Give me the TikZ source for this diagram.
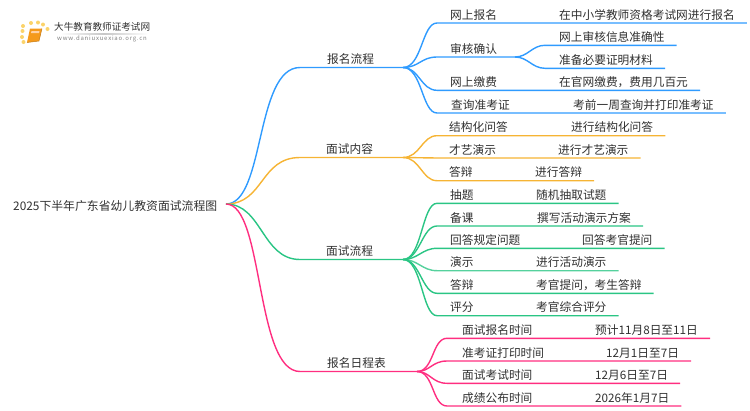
\documentclass[tikz,border=0pt]{standalone}
\usepackage{fontspec}
\setmainfont{Noto Sans CJK SC}
\definecolor{txtgray}{HTML}{303030}
\definecolor{linkblue}{HTML}{2F9BFF}
\definecolor{linkorange}{HTML}{F6B434}
\definecolor{linkgreen}{HTML}{2AC584}
\definecolor{linkpink}{HTML}{FF2E80}
\definecolor{logoorange}{HTML}{F59A1C}
\definecolor{logodot}{HTML}{FBD36A}
\tikzset{
	item/.style={anchor=south west,inner sep=0pt,text depth=3.6pt,text height=9pt,font=\fontsize{11.7}{12}\selectfont,text=txtgray},
	bluelink/.style={draw=linkblue,line width=1.4pt},
	orangelink/.style={draw=linkorange,line width=1.4pt},
	greenlink/.style={draw=linkgreen,line width=1.4pt},
	pinklink/.style={draw=linkpink,line width=1.4pt}
}
\begin{document}
\begin{tikzpicture}[x=1pt,y=-1pt]
	\useasboundingbox (0,0) rectangle (750,410);
	% logo
	\foreach \dx/\dy in {23/26,31/23,38/22.5,43/24.5,47.5/29,22.5/31,22/37,23.5/42}
		\fill[logodot] (\dx,\dy) circle (2);
	\fill[logoorange] (30,28.5) -- (42,28.5) -- (39,41) -- (27,42.5) -- cycle;
	\fill[orange!35!white] (31.5,31) -- (39.5,31) -- (39,33) -- (31,33) -- cycle;
	\draw[logoorange!80!black,line width=.5pt] (27,42.5) -- (39,41) -- (42,28.5);
	\node[anchor=west,inner sep=0pt,font=\fontsize{9.6}{10}\selectfont,text=txtgray] (logotitle) at (54,27) {大牛教育教师证考试网};
	\node[anchor=west,inner sep=0pt,font=\fontsize{6}{7}\selectfont,text=gray] (logourl) at (57,39) {\addfontfeature{LetterSpace=13}www.daniuxuexiao.org.cn};
	\fill[left color=white,right color=white,middle color=black!22] (60,33) rectangle (148,34);
	% root
	\node[anchor=base west,inner sep=0pt,font=\fontsize{11.85}{12}\selectfont,text=txtgray] (root) at (13,210) {2025下半年广东省幼儿教资面试流程图};
	\coordinate (rootout) at (226,204);
	% branches
	\coordinate (bluehub) at (403,67.5);
	\coordinate (orangehub) at (403,157.5);
	\coordinate (greenhub) at (403,259.5);
	\coordinate (pinkhub) at (417,371.5);
	\node[item] (bmlc) at (327,67.5) {报名流程};
	\node[item] (msnr) at (326,157.5) {面试内容};
	\node[item] (mslc) at (326,259.5) {面试流程};
	\node[item] (rcb) at (327,371.5) {报名日程表};
	\draw[bluelink] (rootout) .. controls +(39,0) and +(-45,0) .. ([xshift=-27pt]bmlc.south west) -- (bluehub);
	\draw[orangelink] (rootout) .. controls +(38,0) and +(-40,0) .. ([xshift=-26pt]msnr.south west) -- (orangehub);
	\draw[greenlink] (rootout) .. controls +(36,0) and +(-38,0) .. ([xshift=-26pt]mslc.south west) -- (greenhub);
	\draw[pinklink] (rootout) .. controls +(38,0) and +(-45,0) .. ([xshift=-27pt]rcb.south west) -- (pinkhub);
	% blue leaves
	\node[item] (wsbm) at (450,23) {网上报名};
	\node[item] (wsbmd) at (559,23) {在中小学教师资格考试网进行报名};
	\node[item] (shqr) at (450,57) {审核确认};
	\coordinate (shhub) at (515,57);
	\node[item] (shxx) at (559,45.3) {网上审核信息准确性};
	\node[item] (shcl) at (559,68.3) {准备必要证明材料};
	\node[item] (wsjf) at (450,90.3) {网上缴费};
	\node[item] (wsjfd) at (559,90.3) {在官网缴费，费用几百元};
	\node[item] (cxzk) at (451,113) {查询准考证};
	\node[item] (cxzkd) at (573,113) {考前一周查询并打印准考证};
	\draw[bluelink] (bluehub) .. controls +(19,0) and +(-15,0) .. ([xshift=-13pt]wsbm.south west) -- ([xshift=12pt]wsbmd.south east);
	\draw[bluelink] (bluehub) .. controls +(16,0) and +(-16,0) .. ([xshift=-13pt]shqr.south west) -- (shhub);
	\draw[bluelink] (shhub) .. controls +(13,0) and +(-13,0) .. ([xshift=-14pt]shxx.south west) -- ([xshift=12pt]shxx.south east);
	\draw[bluelink] (shhub) .. controls +(13,0) and +(-13,0) .. ([xshift=-14pt]shcl.south west) -- ([xshift=12pt]shcl.south east);
	\draw[bluelink] (bluehub) .. controls +(16,0) and +(-16,0) .. ([xshift=-13pt]wsjf.south west) -- ([xshift=12pt]wsjfd.south east);
	\draw[bluelink] (bluehub) .. controls +(19,0) and +(-15,0) .. ([xshift=-14pt]cxzk.south west) -- ([xshift=12pt]cxzkd.south east);
	% orange leaves
	\node[item] (jgh) at (449,135.7) {结构化问答};
	\node[item] (jghd) at (571,135.7) {进行结构化问答};
	\node[item] (cyys) at (449,158) {才艺演示};
	\node[item] (cyysd) at (558,158) {进行才艺演示};
	\node[item] (db) at (449,180.7) {答辩};
	\node[item] (dbd) at (535,180.7) {进行答辩};
	\draw[orangelink] (orangehub) .. controls +(17,0) and +(-15,0) .. ([xshift=-12pt]jgh.south west) -- ([xshift=12pt]jghd.south east);
	\draw[orangelink] (orangehub) -- ([xshift=-12pt]cyys.south west) -- ([xshift=12pt]cyysd.south east);
	\draw[orangelink] (orangehub) .. controls +(17,0) and +(-15,0) .. ([xshift=-12pt]db.south west) -- ([xshift=12pt]dbd.south east);
	% green leaves
	\node[item] (ct) at (450,203.3) {抽题};
	\node[item] (ctd) at (536,203.3) {随机抽取试题};
	\node[item] (bk) at (450,226) {备课};
	\node[item] (bkd) at (537,226) {撰写活动演示方案};
	\node[item] (hd) at (450,248.3) {回答规定问题};
	\node[item] (hdd) at (582,248.3) {回答考官提问};
	\node[item] (ys) at (450,270.7) {演示};
	\node[item] (ysd) at (536,270.7) {进行活动演示};
	\node[item] (gdb) at (450,293.3) {答辩};
	\node[item] (gdbd) at (536,293.3) {考官提问，考生答辩};
	\node[item] (pf) at (450,315.7) {评分};
	\node[item] (pfd) at (536,315.7) {考官综合评分};
	\draw[greenlink] (greenhub) .. controls +(19,0) and +(-15,0) .. ([xshift=-13pt]ct.south west) -- ([xshift=12pt]ctd.south east);
	\draw[greenlink] (greenhub) .. controls +(17,0) and +(-15,0) .. ([xshift=-13pt]bk.south west) -- ([xshift=12pt]bkd.south east);
	\draw[greenlink] (greenhub) .. controls +(15,0) and +(-15,0) .. ([xshift=-13pt]hd.south west) -- ([xshift=12pt]hdd.south east);
	\draw[greenlink,draw opacity=.8] (greenhub) .. controls +(15,0) and +(-15,0) .. ([xshift=-13pt]ys.south west) -- ([xshift=12pt]ysd.south east);
	\draw[greenlink] (greenhub) .. controls +(17,0) and +(-15,0) .. ([xshift=-13pt]gdb.south west) -- ([xshift=12pt]gdbd.south east);
	\draw[greenlink] (greenhub) .. controls +(19,0) and +(-15,0) .. ([xshift=-13pt]pf.south west) -- ([xshift=12pt]pfd.south east);
	% pink leaves
	\node[item] (msbm) at (462,338.3) {面试报名时间};
	\node[item] (msbmd) at (595,338.3) {预计11月8日至11日};
	\node[item] (zkz) at (462,361) {准考证打印时间};
	\node[item] (zkzd) at (606,361) {12月1日至7日};
	\node[item] (msks) at (462,383.3) {面试考试时间};
	\node[item] (msksd) at (595,383.3) {12月6日至7日};
	\node[item] (cj) at (462,406) {成绩公布时间};
	\node[item] (cjd) at (595,406) {2026年1月7日};
	\draw[pinklink] (pinkhub) .. controls +(17,0) and +(-15,0) .. ([xshift=-15pt]msbm.south west) -- ([xshift=12pt]msbmd.south east);
	\draw[pinklink] (pinkhub) .. controls +(13,0) and +(-15,0) .. ([xshift=-15pt]zkz.south west) -- ([xshift=12pt]zkzd.south east);
	\draw[pinklink] (pinkhub) .. controls +(13,0) and +(-15,0) .. ([xshift=-15pt]msks.south west) -- ([xshift=12pt]msksd.south east);
	\draw[pinklink] (pinkhub) .. controls +(17,0) and +(-15,0) .. ([xshift=-15pt]cj.south west) -- ([xshift=12pt]cjd.south east);
\end{tikzpicture}
\end{document}
